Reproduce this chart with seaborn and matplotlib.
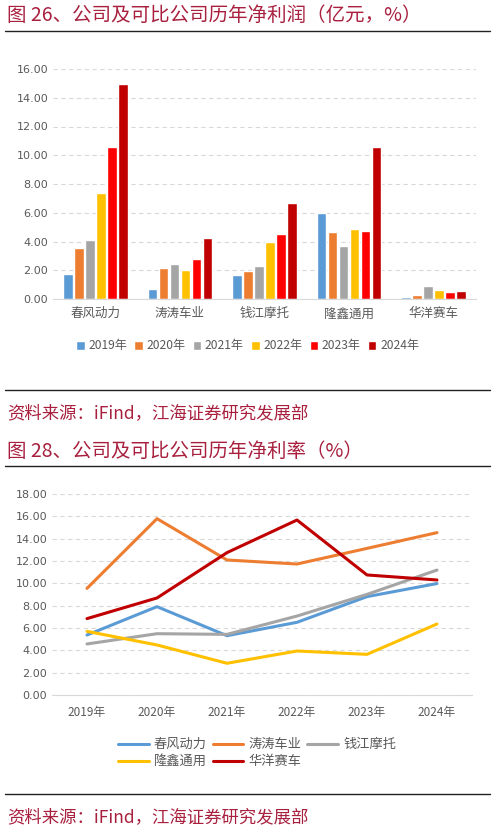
import pandas as pd
import matplotlib
matplotlib.use("Agg")
import matplotlib.pyplot as plt
import seaborn as sns
from matplotlib.lines import Line2D

# data
companies = ['春风动力', '涛涛车业', '钱江摩托', '隆鑫通用', '华洋赛车']
years = ['2019年', '2020年', '2021年', '2022年', '2023年', '2024年']

# net profit (亿元), one list per company, 2019-2024
profit_chunfeng = [1.74, 3.52, 4.10, 7.37, 10.55, 14.96]
profit_taotao = [0.70, 2.16, 2.41, 2.04, 2.81, 4.27]
profit_qianjiang = [1.69, 1.97, 2.30, 3.99, 4.52, 6.70]
profit_longxin = [6.01, 4.64, 3.66, 4.87, 4.73, 10.55]
profit_huayang = [0.14, 0.28, 0.88, 0.63, 0.49, 0.53]

# net margin (%)
margin_chunfeng = [5.37, 7.91, 5.31, 6.51, 8.81, 9.98]
margin_taotao = [9.55, 15.79, 12.09, 11.73, 13.13, 14.54]
margin_qianjiang = [4.57, 5.49, 5.43, 7.07, 9.01, 11.19]
margin_longxin = [5.70, 4.48, 2.84, 3.94, 3.64, 6.36]
margin_huayang = [6.84, 8.69, 12.75, 15.67, 10.75, 10.30]

year_colors = ['#5B9BD5', '#ED7D31', '#A5A5A5', '#FFC000', '#FF0000', '#C00000']
company_colors = ['#5B9BD5', '#ED7D31', '#A5A5A5', '#FFC000', '#C00000']

profits = [profit_chunfeng, profit_taotao, profit_qianjiang, profit_longxin, profit_huayang]
margins = [margin_chunfeng, margin_taotao, margin_qianjiang, margin_longxin, margin_huayang]

df_profit = pd.DataFrame([(c, y, v) for c, vals in zip(companies, profits) for y, v in zip(years, vals)],
                         columns=['company', 'year', 'value'])
df_margin = pd.DataFrame([(c, y, v) for c, vals in zip(companies, margins) for y, v in zip(years, vals)],
                         columns=['company', 'year', 'value'])

sns.set_style('white')
plt.rcParams['font.family'] = ['Noto Sans CJK SC', 'DejaVu Sans']

W, H = 495, 832
fig = plt.figure(figsize=(W / 100, H / 100), dpi=100)

title_color = '#A8203E'
tick_color = '#595959'
grid_color = '#D9D9D9'


def px_axes(left, top, right, bottom):
    return fig.add_axes([left / W, 1 - bottom / H, (right - left) / W, (bottom - top) / H])


def hline(y):
    fig.add_artist(Line2D([5 / W, 490 / W], [1 - y / H, 1 - y / H], color='#222222', lw=1.0))


def style_axes(ax, top):
    ax.set_ylim(0, top)
    ax.set_yticks(range(0, top + 1, 2))
    ax.set_yticklabels([f'{v:.2f}' for v in range(0, top + 1, 2)], color=tick_color, fontsize=8,
                       family=['DejaVu Sans'])
    ax.yaxis.grid(True, color=grid_color, linestyle=(0, (4, 3)), lw=0.8)
    ax.set_axisbelow(True)
    for s in ['top', 'right', 'left']:
        ax.spines[s].set_visible(False)
    ax.spines['bottom'].set_color(grid_color)
    ax.tick_params(axis='both', length=0)
    ax.set_xlabel('')
    ax.set_ylabel('')


# ---- figure 26: bars
fig.text(7 / W, 1 - 15 / H, '图 26、公司及可比公司历年净利润（亿元，%）', color=title_color,
         fontsize=14, va='center', ha='left')
hline(31)

ax1 = px_axes(53, 69, 476, 299)
sns.barplot(data=df_profit, x='company', y='value', hue='year', palette=year_colors,
            width=0.78, gap=0.12, ax=ax1, saturation=1)
style_axes(ax1, 16)
ax1.set_xlim(-0.5, 4.5)
ax1.tick_params(axis='x', pad=6)
for lab in ax1.get_xticklabels():
    lab.set_color(tick_color)
    lab.set_fontsize(9)
handles, labels = ax1.get_legend_handles_labels()
ax1.legend(handles, labels, loc='center', bbox_to_anchor=(0.46, 1 - (346 - 69) / 230), ncol=6,
           frameon=False, fontsize=8.7, handlelength=0.7, handleheight=0.7, handletextpad=0.3,
           columnspacing=0.6, labelcolor=tick_color)

hline(390)
fig.text(7 / W, 1 - 413 / H, '资料来源：iFind，江海证券研究发展部', color=title_color,
         fontsize=12.5, va='center', ha='left')

# ---- figure 28: lines
fig.text(7 / W, 1 - 451 / H, '图 28、公司及可比公司历年净利率（%）', color=title_color,
         fontsize=14, va='center', ha='left')
hline(466)

ax2 = px_axes(52, 494, 472, 695)
sns.lineplot(data=df_margin, x='year', y='value', hue='company', palette=company_colors,
             sort=False, lw=2.2, ax=ax2)
style_axes(ax2, 18)
ax2.set_xlim(-0.5, 5.5)
ax2.tick_params(axis='x', pad=8)
for lab in ax2.get_xticklabels():
    lab.set_color(tick_color)
    lab.set_fontsize(8.5)
handles, labels = ax2.get_legend_handles_labels()
order = [0, 3, 1, 4, 2]
ax2.legend([handles[i] for i in order], [labels[i] for i in order], loc='upper left',
           bbox_to_anchor=((113 - 52) / 420, 1 - (733 - 494) / 201), ncol=3, frameon=False,
           fontsize=9.5, handlelength=2.3, handletextpad=0.4, columnspacing=0.45,
           labelspacing=0.3, labelcolor=tick_color, borderaxespad=0)

hline(794)
fig.text(7 / W, 1 - 817 / H, '资料来源：iFind，江海证券研究发展部', color=title_color,
         fontsize=12.5, va='center', ha='left')

fig.savefig('out.png', dpi=100)
